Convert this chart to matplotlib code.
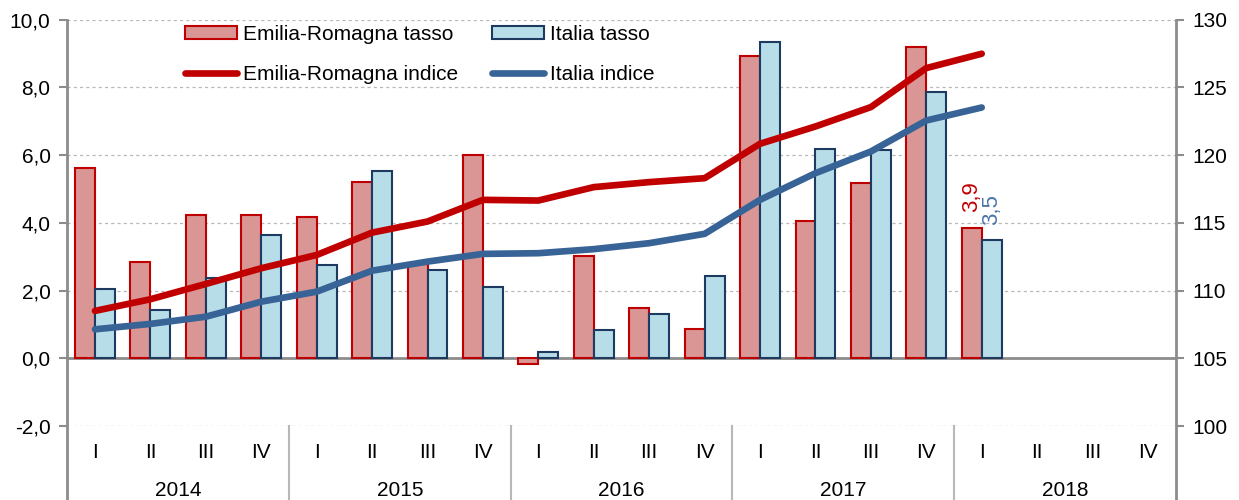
#!/usr/bin/env python3
"""Export Emilia-Romagna vs Italia: tasso (bars, left axis) and indice (lines, right axis)."""
import matplotlib
matplotlib.use("Agg")
import matplotlib.pyplot as plt
import numpy as np

# ─── data ────────────────────────────────────────────────────────────────
YEARS = ["2014", "2015", "2016", "2017", "2018"]
QUARTERS = ["I", "II", "III", "IV"]

er_tasso = [5.62, 2.84, 4.24, 4.24, 4.16, 5.20, 2.80, 6.01,
            -0.17, 3.02, 1.50, 0.86, 8.94, 4.06, 5.19, 9.19, 3.86]
it_tasso = [2.04, 1.43, 2.36, 3.64, 2.76, 5.54, 2.61, 2.12,
            0.19, 0.84, 1.30, 2.43, 9.33, 6.18, 6.14, 7.87, 3.49]
er_indice = [108.50, 109.36, 110.49, 111.65, 112.63, 114.28, 115.10, 116.70,
             116.65, 117.64, 118.01, 118.30, 120.84, 122.12, 123.55, 126.43, 127.49]
it_indice = [107.14, 107.54, 108.07, 109.18, 109.92, 111.47, 112.14, 112.71,
             112.76, 113.06, 113.50, 114.19, 116.70, 118.67, 120.27, 122.56, 123.52]

LAST_LABELS = ["3,9", "3,5"]
LEFT_TICKS = [-2, 0, 2, 4, 6, 8, 10]
RIGHT_TICKS = [100, 105, 110, 115, 120, 125, 130]

# ─── style ───────────────────────────────────────────────────────────────
RED, RED_FILL = "#c00000", "#d99694"
NAVY, BLUE_FILL = "#1f3a60", "#b7dee8"
BLUE_LINE = "#386396"
BLUE_TXT = "#4a74a8"
GRAY, GRID = "#8c8c8c", "#b8b8b8"
FS = 15

plt.rcParams.update({"font.family": ["Liberation Sans", "DejaVu Sans"], "font.size": FS})

n_cat = len(YEARS) * len(QUARTERS)
x = np.arange(len(er_tasso))
w = 0.36

fig = plt.figure(figsize=(12.39, 5.0), dpi=100)
ax = fig.add_axes([0.0543, 0.148, 0.8946, 0.8125])
ax2 = ax.twinx()

# grid + zero line
for t in LEFT_TICKS:
    if t == 0:
        ax.axhline(0, color=GRAY, lw=2.0, zorder=1)
    else:
        ax.axhline(t, color=GRID, lw=0.9, ls=(0, (2.5, 2.5)), zorder=0)

ax.bar(x - w / 2, er_tasso, w, color=RED_FILL, edgecolor=RED, lw=1.5,
       label="Emilia-Romagna tasso", zorder=2)
ax.bar(x + w / 2, it_tasso, w, color=BLUE_FILL, edgecolor=NAVY, lw=1.5,
       label="Italia tasso", zorder=2)

ax2.plot(x, er_indice, color=RED, lw=4.8, solid_capstyle="round",
         solid_joinstyle="round", label="Emilia-Romagna indice", zorder=3)
ax2.plot(x, it_indice, color=BLUE_LINE, lw=4.8, solid_capstyle="round",
         solid_joinstyle="round", label="Italia indice", zorder=3)

# labels on the last quarter
ax.text(x[-1] - w / 2, er_tasso[-1] + 0.45, LAST_LABELS[0], rotation=90,
        ha="center", va="bottom", color=RED, fontsize=FS + 1, zorder=5)
ax.text(x[-1] + w / 2, it_tasso[-1] + 0.45, LAST_LABELS[1], rotation=90,
        ha="center", va="bottom", color=BLUE_TXT, fontsize=FS + 1, zorder=5)

ax.set_xlim(-0.5, n_cat - 0.5)
ax.set_ylim(LEFT_TICKS[0], LEFT_TICKS[-1])
ax2.set_ylim(RIGHT_TICKS[0], RIGHT_TICKS[-1])
ax.set_yticks(LEFT_TICKS)
ax.set_yticklabels([f"{t:.1f}".replace(".", ",") for t in LEFT_TICKS])
ax2.set_yticks(RIGHT_TICKS)
ax2.set_yticklabels([str(t) for t in RIGHT_TICKS])
ax.set_xticks([])

for a in (ax, ax2):
    for s in a.spines.values():
        s.set_visible(False)
    a.tick_params(axis="y", length=6, width=1.5, color=GRAY, pad=6, labelsize=FS)
ax.patch.set_visible(False)

# vertical axis lines running down through the category labels
for xs in (-0.5, n_cat - 0.5):
    ax.plot([xs, xs], [1.0, -0.2], color=GRAY, lw=2.0,
            transform=ax.get_xaxis_transform(), clip_on=False, zorder=4)
for k in range(1, len(YEARS)):
    xs = k * len(QUARTERS) - 0.5
    ax.plot([xs, xs], [0.0, -0.2], color=GRID, lw=1.5,
            transform=ax.get_xaxis_transform(), clip_on=False)

# two-level category axis
for i in range(n_cat):
    ax.text(i, -0.064, QUARTERS[i % len(QUARTERS)], ha="center", va="center",
            transform=ax.get_xaxis_transform(), fontsize=FS)
for k, yr in enumerate(YEARS):
    xc = k * len(QUARTERS) + (len(QUARTERS) - 1) / 2
    ax.text(xc, -0.158, yr, ha="center", va="center",
            transform=ax.get_xaxis_transform(), fontsize=FS)

h1, l1 = ax.get_legend_handles_labels()
h2, l2 = ax2.get_legend_handles_labels()
handles = [h1[0], h2[0], h1[1], h2[1]]
labels = [l1[0], l2[0], l1[1], l2[1]]
ax2.legend(handles, labels, ncol=2, loc="upper left", bbox_to_anchor=(0.104, 0.992),
           frameon=False, borderaxespad=0, borderpad=0.1, fontsize=FS,
           handlelength=2.5, handleheight=0.55, handletextpad=0.28,
           columnspacing=1.65, labelspacing=1.0)

fig.savefig("out.png", dpi=100)
